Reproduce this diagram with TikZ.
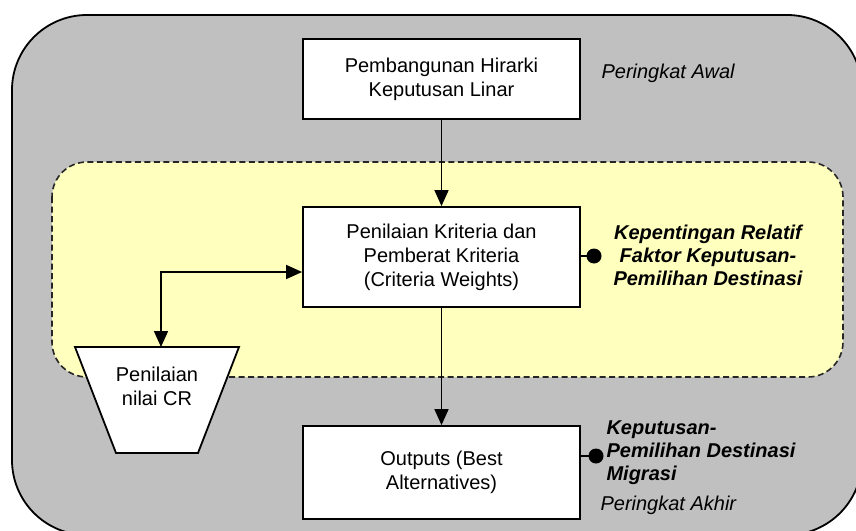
\documentclass[tikz,border=0pt]{standalone}
\usepackage{fontspec}
\setmainfont{Liberation Sans}
\usetikzlibrary{arrows.meta}
\definecolor{outergray}{RGB}{192,192,192}
\definecolor{paleyellow}{RGB}{255,255,190}
\begin{document}
\begin{tikzpicture}[x=1pt,y=-1pt,
  every node/.style={font=\fontsize{20}{24}\selectfont},
  box/.style={draw=black, fill=white, line width=1.8pt, align=center, inner sep=0pt},
  flow/.style={line width=1.6pt, -{Triangle[length=16pt,width=14pt]}},
  both/.style={line width=1.6pt, {Triangle[length=16pt,width=14pt]}-{Triangle[length=16pt,width=14pt]}},
  tie/.style={line width=1.8pt},
  note/.style={font=\fontsize{20}{24}\selectfont\itshape},
  keynote/.style={font=\fontsize{20}{23}\selectfont\bfseries\itshape}
]
\useasboundingbox (0,0) rectangle (856,530);
\begin{scope}
  \clip (0,0) rectangle (856,530);
  \draw[fill=outergray, line width=1.8pt, rounded corners=75pt] (12,15) rectangle (862,535);
\end{scope}
\draw[fill=paleyellow, dash pattern=on 6pt off 3.5pt, line width=1.6pt, draw=black!85, rounded corners=35pt] (52,162) rectangle (843,377);

\node[box, minimum width=277pt, minimum height=80pt] (top) at (441.5,79) {Pembangunan Hirarki\\Keputusan Linar};
\node[box, minimum width=277pt, minimum height=100pt] (mid) at (441.5,257) {Penilaian Kriteria dan\\Pemberat Kriteria\\(Criteria Weights)};
\node[box, minimum width=277pt, minimum height=93pt] (out) at (441.5,472.5) {Outputs (Best\\Alternatives)};

% trapezoid
\draw[fill=white, line width=1.8pt] (75,347) -- (239,347) -- (198,453) -- (116,453) -- cycle;
\coordinate (crtop) at (161,347);
\node[align=center] (cr) at (157,386) {Penilaian\\nilai CR};

\draw[flow] (top) -- (mid);
\draw[flow] (mid) -- (out);
\draw[both] (crtop) |- ([yshift=-15pt]mid.west);

\coordinate (dot1) at (594,256);
\coordinate (dot2) at (596,456);
\draw[tie] (mid.east |- dot1) -- (dot1);
\fill (dot1) circle (7.5pt);
\draw[tie] (out.east |- dot2) -- (dot2);
\fill (dot2) circle (7.5pt);

\node[note, anchor=west] (awal) at (598,73) {Peringkat Awal};
\node[keynote, align=center] (kep) at (708,255) {Kepentingan Relatif\\Faktor Keputusan-\\Pemilihan Destinasi};
\node[keynote, align=left, anchor=west] (kep2) at (603,453) {Keputusan-\\Pemilihan Destinasi\\Migrasi};
\node[note, anchor=west] (akhir) at (597,505) {Peringkat Akhir};
\end{tikzpicture}
\end{document}
